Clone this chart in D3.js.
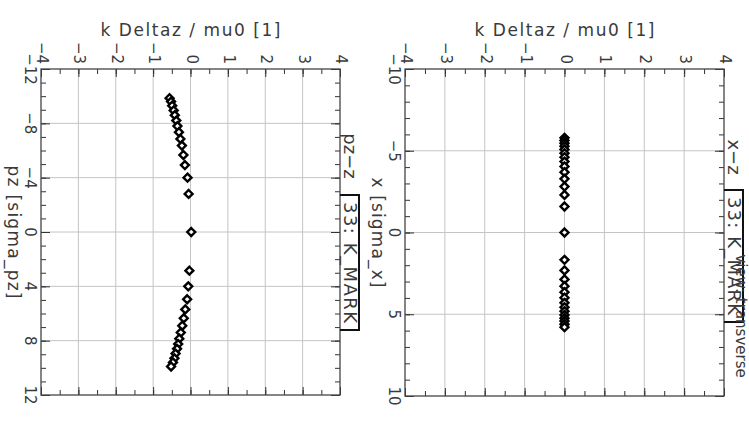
<!DOCTYPE html>
<html>
<head>
<meta charset="utf-8">
<script src="https://cdn.jsdelivr.net/npm/d3@7"></script>
<style>
  body { margin: 0; background: #fff; }
  text { font-family: "DejaVu Sans", sans-serif; fill: #3a3a3a; }
</style>
</head>
<body>
<div id="chart"></div>
<script>
// tick values for the two panels
var kTicks = [-4, -3, -2, -1, 0, 1, 2, 3, 4]
var pzTicks = [-12, -8, -4, 0, 4, 8, 12]
var xTicks = [-10, -5, 0, 5, 10]

// left panel: pz [sigma_pz] vs k Deltaz / mu0
var pzVals = [-9.85, -9.6, -9.3, -8.95, -8.6, -8.2, -7.8, -7.35, -6.85, -6.36, -5.67, -4.93, -4.0, -2.8, 0,
              2.85, 4.0, 4.95, 5.7, 6.35, 6.9, 7.4, 7.85, 8.25, 8.6, 8.95, 9.3, 9.6, 9.9]
var pzK = [-0.56, -0.52, -0.49, -0.45, -0.42, -0.38, -0.35, -0.31, -0.27, -0.23, -0.19, -0.15, -0.08, -0.05, 0.02,
           -0.03, -0.06, -0.09, -0.14, -0.18, -0.22, -0.26, -0.30, -0.33, -0.36, -0.40, -0.43, -0.47, -0.52]

// right panel: x [sigma_x] vs k Deltaz / mu0
var xVals = [-5.79, -5.63, -5.46, -5.28, -5.08, -4.85, -4.61, -4.34, -4.04, -3.69, -3.28, -2.81, -2.3, -1.59, 0,
             1.67, 2.32, 2.87, 3.28, 3.65, 3.99, 4.30, 4.57, 4.81, 5.04, 5.24, 5.42, 5.61, 5.79]
var xK = [0, 0, 0, 0, 0, 0, 0, 0, 0, 0, 0, 0, 0, 0, 0,
          0, 0, 0, 0, 0, 0, 0, 0, 0, 0, 0, 0, 0, 0]

var width = 749
var height = 423

var svg = d3.select('#chart').append('svg')
    .attr('width', width)
    .attr('height', height)

// the plot is drawn turned a quarter turn: value axis runs down, k runs across
function panel(opt) {
    var k = d3.scaleLinear().domain([-4, 4]).range([opt.x0, opt.x1])
    var v = d3.scaleLinear().domain(opt.vDomain).range([opt.y0, opt.y1])
    var g = svg.append('g')

    // grid
    g.selectAll('.vgrid')
        .data(kTicks.slice(1, -1))
        .enter().append('line')
        .attr('x1', function (d) { return k(d) }).attr('x2', function (d) { return k(d) })
        .attr('y1', opt.y0).attr('y2', opt.y1)
        .style('stroke', '#c4c4c4').style('stroke-width', 1)

    g.selectAll('.hgrid')
        .data(opt.vTicks.slice(1, -1))
        .enter().append('line')
        .attr('x1', opt.x0).attr('x2', opt.x1)
        .attr('y1', function (d) { return v(d) }).attr('y2', function (d) { return v(d) })
        .style('stroke', '#c4c4c4').style('stroke-width', 1)

    // ticks, all pointing inward
    var kMinor = d3.range(-4, 4.01, 0.5)
    var vMinor = d3.range(opt.vDomain[0], opt.vDomain[1] + 0.01, 1)
    function isMajor(d) { return Math.abs(d - Math.round(d)) < 1e-6 }

    g.append('g').attr('transform', 'translate(0,' + opt.y0 + ')')
        .call(d3.axisTop(k).tickValues(kMinor).tickSize(-5).tickFormat(''))
    g.append('g').attr('transform', 'translate(0,' + opt.y1 + ')')
        .call(d3.axisBottom(k).tickValues(kMinor).tickSize(-5).tickFormat(''))
    g.append('g').attr('transform', 'translate(' + opt.x0 + ',0)')
        .call(d3.axisLeft(v).tickValues(vMinor).tickSize(-5).tickFormat(''))
    g.append('g').attr('transform', 'translate(' + opt.x1 + ',0)')
        .call(d3.axisRight(v).tickValues(vMinor).tickSize(-5).tickFormat(''))

    // longer major ticks
    g.append('g').attr('transform', 'translate(0,' + opt.y0 + ')')
        .call(d3.axisTop(k).tickValues(kMinor.filter(isMajor)).tickSize(-8).tickFormat(''))
    g.append('g').attr('transform', 'translate(0,' + opt.y1 + ')')
        .call(d3.axisBottom(k).tickValues(kMinor.filter(isMajor)).tickSize(-8).tickFormat(''))
    g.append('g').attr('transform', 'translate(' + opt.x0 + ',0)')
        .call(d3.axisLeft(v).tickValues(opt.vTicks).tickSize(-9).tickFormat(''))
    g.append('g').attr('transform', 'translate(' + opt.x1 + ',0)')
        .call(d3.axisRight(v).tickValues(opt.vTicks).tickSize(-9).tickFormat(''))

    g.selectAll('.domain').remove()
    g.selectAll('.tick line').style('stroke', '#333').style('stroke-width', 1)

    // frame
    g.append('rect')
        .attr('x', opt.x0).attr('y', opt.y0)
        .attr('width', opt.x1 - opt.x0).attr('height', opt.y1 - opt.y0)
        .style('fill', 'none').style('stroke', '#444').style('stroke-width', 1.3)

    // tick labels (turned)
    g.selectAll('.klab')
        .data(kTicks)
        .enter().append('text')
        .attr('transform', function (d) { return 'translate(' + (k(d) + 1) + ',' + (opt.y0 - 5) + ') rotate(90)' })
        .attr('text-anchor', 'end')
        .attr('dominant-baseline', 'central')
        .style('font-size', '15px')
        .text(function (d) { return d < 0 ? '\u2212' + (-d) : d })

    g.selectAll('.vlab')
        .data(opt.vTicks)
        .enter().append('text')
        .attr('transform', function (d) { return 'translate(' + (opt.x0 - 11) + ',' + v(d) + ') rotate(90)' })
        .attr('text-anchor', 'middle')
        .attr('dominant-baseline', 'central')
        .style('font-size', '15px')
        .text(function (d) { return d < 0 ? '\u2212' + (-d) : d })

    // axis titles
    g.append('text')
        .attr('x', (opt.x0 + opt.x1) / 2).attr('y', 36)
        .attr('text-anchor', 'middle')
        .attr('textLength', 180)
        .style('font-size', '17px')
        .text('k Deltaz / mu0 [1]')

    g.append('text')
        .attr('transform', 'translate(' + opt.vTitleX + ',' + (opt.y0 + opt.y1) / 2 + ') rotate(90)')
        .attr('text-anchor', 'middle')
        .attr('dominant-baseline', 'central')
        .attr('textLength', opt.vTitleLen)
        .style('font-size', '17px')
        .text(opt.vTitle)

    // panel title on the right side with the bracket box
    var tx = opt.x1 + 10
    g.append('text')
        .attr('transform', 'translate(' + tx + ',' + opt.nameY + ') rotate(90)')
        .attr('text-anchor', 'middle')
        .attr('dominant-baseline', 'central')
        .style('font-size', '18px')
        .text(opt.name)
    g.append('path')
        .attr('d', 'M' + opt.x1 + ',' + opt.boxY0 + 'H' + (opt.x1 + 19) + 'V' + opt.boxY1 + 'H' + opt.x1)
        .style('fill', 'none').style('stroke', '#111').style('stroke-width', 2)
    g.append('text')
        .attr('transform', 'translate(' + tx + ',' + (opt.boxY0 + opt.boxY1) / 2 + ') rotate(90)')
        .attr('text-anchor', 'middle')
        .attr('dominant-baseline', 'central')
        .attr('textLength', opt.boxY1 - opt.boxY0 - 14)
        .style('font-size', '18px')
        .text('33: K_MARK')

    // points
    var pts = opt.vals.map(function (d, i) { return { v: d, k: opt.ks[i] } })
    g.selectAll('.pt')
        .data(pts)
        .enter().append('path')
        .attr('d', d3.symbol().type(d3.symbolDiamond2).size(40))
        .attr('transform', function (d) { return 'translate(' + k(d.k) + ',' + v(d.v) + ')' })
        .style('fill', '#fff').style('stroke', '#000').style('stroke-width', 2.4)

    return g
}

panel({ x0: 41, x1: 340, y0: 69, y1: 395, vDomain: [-12, 12], vTicks: pzTicks,
        vals: pzVals, ks: pzK, vTitle: 'pz [sigma_pz]', vTitleX: 14, vTitleLen: 133,
        name: 'pz\u2212z', nameY: 156, boxY0: 195, boxY1: 330 })

panel({ x0: 405, x1: 724, y0: 69, y1: 396, vDomain: [-10, 10], vTicks: xTicks,
        vals: xVals, ks: xK, vTitle: 'x [sigma_x]', vTitleX: 378, vTitleLen: 110,
        name: 'x\u2212z', nameY: 157, boxY0: 190, boxY1: 322 })

// overlapping note at the right edge, partly past the window like the source
svg.append('text')
    .attr('transform', 'translate(741,316) rotate(90)')
    .attr('text-anchor', 'middle')
    .attr('dominant-baseline', 'central')
    .style('font-size', '15px')
    .text('view: transverse')
</script>
</body>
</html>
